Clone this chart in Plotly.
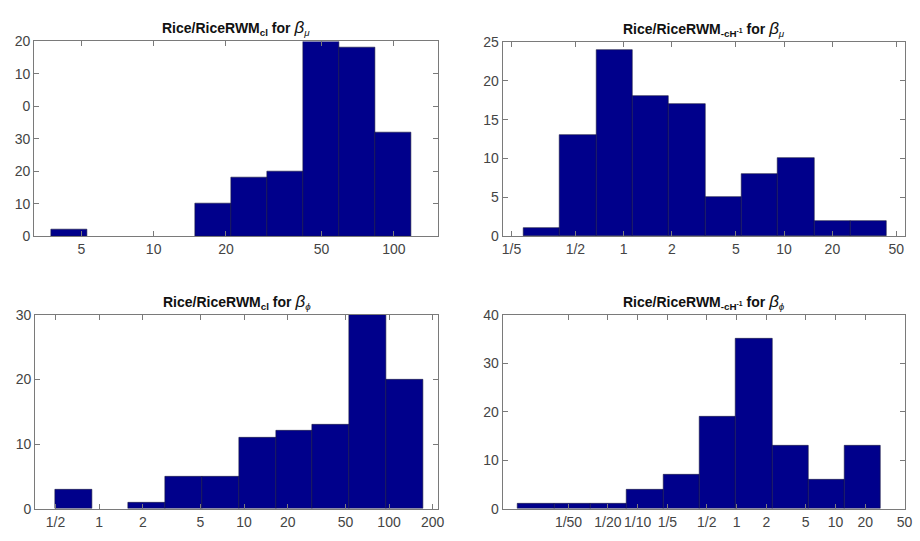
import numpy as np
import plotly.graph_objects as go

# Histogram bin edges (log10 of the ratio) and counts for each panel
edges_cl_mu = [0.572, 0.722, 0.872, 1.022, 1.172, 1.322, 1.472, 1.622, 1.772, 1.922, 2.072]
counts_cl_mu = [2, 0, 0, 0, 10, 18, 20, 60, 58, 32]

edges_ch_mu = [-0.625, -0.398, -0.172, 0.055, 0.281, 0.508, 0.734, 0.961, 1.188, 1.414, 1.641]
counts_ch_mu = [1, 13, 24, 18, 17, 5, 8, 10, 2, 2]

edges_cl_phi = [-0.305, -0.051, 0.203, 0.456, 0.710, 0.964, 1.218, 1.471, 1.725, 1.979, 2.233]
counts_cl_phi = [3, 0, 1, 5, 5, 11, 12, 13, 30, 20]

edges_ch_phi = [-2.21, -1.843, -1.476, -1.109, -0.742, -0.375, -0.008, 0.359, 0.726, 1.093, 1.46]
counts_ch_phi = [1, 1, 1, 4, 7, 19, 35, 13, 6, 13]

# Tick positions (ratio values) and their labels
xticks_cl_mu = [5, 10, 20, 50, 100]
xlabels_cl_mu = ["5", "10", "20", "50", "100"]
yticks_cl_mu = [0, 10, 20, 30, 40, 50, 60]
ylabels_cl_mu = ["0", "10", "20", "30", "0", "10", "20"]

xticks_ch_mu = [1/5, 1/2, 1, 2, 5, 10, 20, 50]
xlabels_ch_mu = ["1/5", "1/2", "1", "2", "5", "10", "20", "50"]
yticks_ch_mu = [0, 5, 10, 15, 20, 25]

xticks_cl_phi = [1/2, 1, 2, 5, 10, 20, 50, 100, 200]
xlabels_cl_phi = ["1/2", "1", "2", "5", "10", "20", "50", "100", "200"]
yticks_cl_phi = [0, 10, 20, 30]

xticks_ch_phi = [1/50, 1/20, 1/10, 1/5, 1/2, 1, 2, 5, 10, 20, 50]
xlabels_ch_phi = ["1/50", "1/20", "1/10", "1/5", "1/2", "1", "2", "5", "10", "20", "50"]
yticks_ch_phi = [0, 10, 20, 30, 40]

BETA = "<span style='font-size:17px;font-weight:normal'><i>β</i></span>"
titles = [
    "<b>Rice/RiceRWM<sub>cl</sub> for </b>" + BETA + "<sub><i>μ</i></sub>",
    "<b>Rice/RiceRWM<sub>-cH<sup>-1</sup></sub> for </b>" + BETA + "<sub><i>μ</i></sub>",
    "<b>Rice/RiceRWM<sub>cl</sub> for </b>" + BETA + "<sub><i>ϕ</i></sub>",
    "<b>Rice/RiceRWM<sub>-cH<sup>-1</sup></sub> for </b>" + BETA + "<sub><i>ϕ</i></sub>",
]

W, H = 920, 541
BAR = "#00008b"
AX = "#7a7a7a"
TXT = "#444444"
FONT = "Liberation Sans, Arial, sans-serif"

panels = [
    dict(edges=edges_cl_mu, counts=counts_cl_mu, xt=xticks_cl_mu, xl=xlabels_cl_mu,
         yt=yticks_cl_mu, yl=ylabels_cl_mu, xr=[0.503, 2.184], yr=[0, 60],
         px=(33.5, 441.5), py=(34.5, 235)),
    dict(edges=edges_ch_mu, counts=counts_ch_mu, xt=xticks_ch_mu, xl=xlabels_ch_mu,
         yt=yticks_ch_mu, yl=[str(v) for v in yticks_ch_mu], xr=[-0.755, 1.751], yr=[0, 25],
         px=(506.5, 912.5), py=(35, 235)),
    dict(edges=edges_cl_phi, counts=counts_cl_phi, xt=xticks_cl_phi, xl=xlabels_cl_phi,
         yt=yticks_cl_phi, yl=[str(v) for v in yticks_cl_phi], xr=[-0.4416, 2.339], yr=[0, 30],
         px=(34.5, 441.5), py=(316, 516)),
    dict(edges=edges_ch_phi, counts=counts_ch_phi, xt=xticks_ch_phi, xl=xlabels_ch_phi,
         yt=yticks_ch_phi, yl=[str(v) for v in yticks_ch_phi], xr=[-2.366, 1.699], yr=[0, 40],
         px=(506.5, 912.5), py=(316, 516)),
]

fig = go.Figure()
annotations = []
for i, p in enumerate(panels, start=1):
    e = np.array(p["edges"])
    centers = (e[:-1] + e[1:]) / 2
    widths = np.diff(e)
    # empty bins get no outline so the axis line stays clean
    outline = [0.6 if c > 0 else 0 for c in p["counts"]]
    sfx = "" if i == 1 else str(i)
    fig.add_trace(go.Bar(
        x=centers, y=p["counts"], width=widths,
        marker=dict(color=BAR, line=dict(color="#1a1a40", width=outline)),
        xaxis="x" + sfx, yaxis="y" + sfx, showlegend=False, hoverinfo="skip",
    ))
    xd = [p["px"][0] / W, p["px"][1] / W]
    yd = [1 - p["py"][1] / H, 1 - p["py"][0] / H]
    common = dict(showgrid=False, zeroline=False, showline=True, linecolor=AX, linewidth=1,
                  mirror="ticks", ticks="inside", ticklen=5, tickcolor=AX,
                  tickfont=dict(family=FONT, size=14, color=TXT))
    fig.update_layout(**{
        "xaxis" + sfx: dict(domain=xd, range=p["xr"], anchor="y" + sfx,
                            tickvals=list(np.log10(p["xt"])), ticktext=p["xl"], **common),
        "yaxis" + sfx: dict(domain=yd, range=p["yr"], anchor="x" + sfx,
                            tickvals=p["yt"], ticktext=p["yl"], **common),
    })
    annotations.append(dict(
        text=titles[i - 1], xref="paper", yref="paper",
        x=(xd[0] + xd[1]) / 2, y=yd[1], xanchor="center", yanchor="bottom", yshift=1,
        showarrow=False, font=dict(family=FONT, size=14, color="#111111"),
    ))

fig.update_layout(
    width=W, height=H, margin=dict(l=0, r=0, t=0, b=0),
    paper_bgcolor="white", plot_bgcolor="white",
    annotations=annotations, bargap=0,
)

fig.write_html("out.html")
